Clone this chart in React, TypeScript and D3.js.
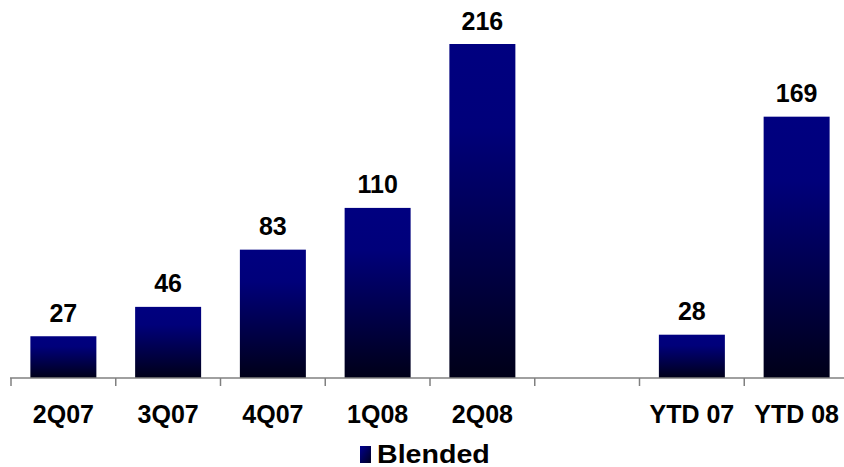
import React from "react";
import * as d3 from "d3";

const categories = ["2Q07", "3Q07", "4Q07", "1Q08", "2Q08", "", "YTD 07", "YTD 08"];
const values: (number | null)[] = [27, 46, 83, 110, 216, null, 28, 169];
const seriesName = "Blended";

const W = 844;
const H = 467;
const FONT = "'Liberation Sans', Arial, Helvetica, sans-serif";

export default function App() {
  const x = d3
    .scaleBand<string>()
    .domain(categories.map((c, i) => c || `gap-${i}`))
    .range([11, 849])
    .paddingInner(0.37)
    .paddingOuter(0.185);
  const keys = x.domain();
  const y = d3.scaleLinear().domain([0, 216]).range([378, 44]);
  const step = x.step();
  const x0 = x.range()[0];
  const baseline = y(0);

  return (
    <svg
      width={W}
      height={H}
      style={{ position: "absolute", left: 0, top: 0, background: "#fff" }}
      fontFamily={FONT}
    >
      <defs>
        <linearGradient id="barFill" x1="0" y1="0" x2="0" y2="1">
          <stop offset="0" stopColor="#000080" />
          <stop offset="0.25" stopColor="#00007a" />
          <stop offset="0.7" stopColor="#000040" />
          <stop offset="1" stopColor="#000018" />
        </linearGradient>
        <linearGradient id="keyFill" x1="0" y1="0" x2="1" y2="1">
          <stop offset="0" stopColor="#000090" />
          <stop offset="1" stopColor="#000020" />
        </linearGradient>
      </defs>

      {/* bars */}
      {values.map((v, i) =>
        v == null ? null : (
          <rect
            key={`bar-${i}`}
            x={x(keys[i])!}
            y={y(v)}
            width={x.bandwidth()}
            height={baseline - y(v)}
            fill="url(#barFill)"
          />
        )
      )}

      {/* value labels */}
      {values.map((v, i) =>
        v == null ? null : (
          <text
            key={`val-${i}`}
            x={x(keys[i])! + x.bandwidth() / 2}
            y={y(v) - 14.5}
            textAnchor="middle"
            fontSize={25}
            fontWeight="bold"
            fill="#000"
          >
            {v}
          </text>
        )
      )}

      {/* category axis */}
      <line x1={x0 - 1} x2={W} y1={baseline} y2={baseline} stroke="#808080" strokeWidth={1.5} />
      {d3.range(categories.length + 1).map((i) => (
        <line
          key={`tick-${i}`}
          x1={x0 + i * step}
          x2={x0 + i * step}
          y1={baseline}
          y2={baseline + 8}
          stroke="#808080"
          strokeWidth={1.5}
        />
      ))}
      {categories.map((c, i) => (
        <text
          key={`cat-${i}`}
          x={x(keys[i])! + x.bandwidth() / 2}
          y={423}
          textAnchor="middle"
          fontSize={25}
          fontWeight="bold"
          fill="#000"
        >
          {c}
        </text>
      ))}

      {/* legend */}
      <rect x={360} y={446} width={11} height={17} fill="url(#keyFill)" />
      <text
        transform="translate(377,462.5) scale(1.1,1)"
        fontSize={26}
        fontWeight="bold"
        fill="#000"
      >
        {seriesName}
      </text>
    </svg>
  );
}
